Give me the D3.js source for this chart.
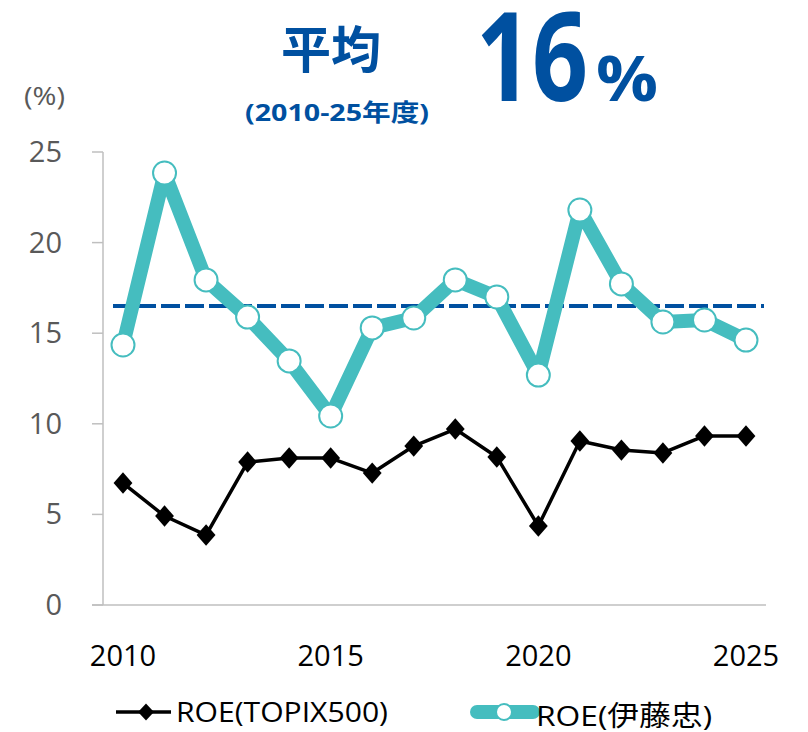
<!DOCTYPE html>
<html>
<head>
<meta charset="utf-8">
<script src="https://cdn.jsdelivr.net/npm/d3@7"></script>
<style>
  body { margin: 0; background: #fff; }
  text { font-family: "Open Sans", "Noto Sans CJK JP", sans-serif; }
</style>
</head>
<body>
<script>
const years = d3.range(2010, 2026);
const roeItochu = [14.35, 23.84, 17.94, 15.89, 13.47, 10.43, 15.29, 15.84, 17.94, 17.0, 12.69, 21.8, 17.72, 15.62, 15.73, 14.62];
const roeTopix = [6.73, 4.91, 3.86, 7.89, 8.11, 8.11, 7.28, 8.77, 9.71, 8.17, 4.36, 9.05, 8.55, 8.39, 9.33, 9.33];
const average = 16.5;
const yTicks = [0, 5, 10, 15, 20, 25];
const xTicks = [2010, 2015, 2020, 2025];

const W = 808, H = 732;
const blue = "#0050a0", teal = "#45bdbf", grey = "#bfbfbf";

const svg = d3.select("body")
    .append("svg")
    .attr("width", W)
    .attr("height", H);

const x = d3.scaleLinear().domain([2010, 2025]).range([123, 746]);
const y = d3.scaleLinear().domain([0, 25]).range([605, 152]);

// axes
svg.append("line")
    .attr("x1", 103).attr("x2", 103)
    .attr("y1", y(25)).attr("y2", y(0))
    .attr("stroke", grey).attr("stroke-width", 1.5);
svg.append("line")
    .attr("x1", 92).attr("x2", 766)
    .attr("y1", y(0)).attr("y2", y(0))
    .attr("stroke", grey).attr("stroke-width", 1.5);

svg.append("g")
    .selectAll("line")
    .data(yTicks)
    .enter()
    .append("line")
    .attr("x1", 92).attr("x2", 103)
    .attr("y1", d => y(d)).attr("y2", d => y(d))
    .attr("stroke", grey).attr("stroke-width", 1.5);

svg.append("g")
    .selectAll("text")
    .data(yTicks)
    .enter()
    .append("text")
    .text(d => d)
    .attr("x", 62)
    .attr("y", d => y(d) + 10)
    .attr("text-anchor", "end")
    .attr("fill", "#595959")
    .attr("font-size", 29);

svg.append("g")
    .selectAll("text")
    .data(xTicks)
    .enter()
    .append("text")
    .text(d => d)
    .attr("x", d => x(d))
    .attr("y", 666)
    .attr("text-anchor", "middle")
    .attr("fill", "#000")
    .attr("font-size", 29);

// average dashed line
svg.append("line")
    .attr("x1", 113).attr("x2", 764)
    .attr("y1", y(average)).attr("y2", y(average))
    .attr("stroke", blue)
    .attr("stroke-width", 4)
    .attr("stroke-dasharray", "19,5");

const line = d3.line()
    .x((d, i) => x(years[i]))
    .y(d => y(d));

// TOPIX line + diamonds
svg.append("path")
    .attr("d", line(roeTopix))
    .attr("fill", "none")
    .attr("stroke", "#000")
    .attr("stroke-width", 3.5)
    .attr("stroke-linejoin", "round");

const diamond = d3.symbol().type(d3.symbolDiamond2).size(250);
svg.append("g")
    .selectAll("path")
    .data(roeTopix)
    .enter()
    .append("path")
    .attr("d", diamond)
    .attr("transform", (d, i) => `translate(${x(years[i])},${y(d)}) scale(0.95,1.08)`)
    .attr("fill", "#000");

// Itochu line + circles
svg.append("path")
    .attr("d", line(roeItochu))
    .attr("fill", "none")
    .attr("stroke", teal)
    .attr("stroke-width", 14)
    .attr("stroke-linejoin", "round");

svg.append("g")
    .selectAll("circle")
    .data(roeItochu)
    .enter()
    .append("circle")
    .attr("cx", (d, i) => x(years[i]))
    .attr("cy", d => y(d))
    .attr("r", 11.5)
    .attr("fill", "#fff")
    .attr("stroke", teal)
    .attr("stroke-width", 2);

// titles
svg.append("text")
    .text("(%)")
    .attr("x", 24).attr("y", 105)
    .attr("fill", "#595959")
    .attr("font-size", 25)
    .attr("textLength", 41)
    .attr("lengthAdjust", "spacingAndGlyphs");

svg.append("text")
    .text("平均")
    .attr("x", 331).attr("y", 68)
    .attr("text-anchor", "middle")
    .attr("fill", blue)
    .attr("font-weight", "bold")
    .attr("font-size", 50)
    .attr("font-family", "Noto Sans CJK JP");

svg.append("text")
    .text("(2010-25年度)")
    .attr("x", 337).attr("y", 121)
    .attr("text-anchor", "middle")
    .attr("fill", blue)
    .attr("font-weight", "bold")
    .attr("font-size", 24)
    .attr("textLength", 184)
    .attr("lengthAdjust", "spacingAndGlyphs")
    .attr("font-family", "Noto Sans CJK JP");

svg.append("text")
    .text("16")
    .attr("x", 476).attr("y", 101)
    .attr("fill", blue)
    .attr("font-weight", "bold")
    .attr("font-size", 124)
    .attr("textLength", 112)
    .attr("lengthAdjust", "spacingAndGlyphs");

svg.append("text")
    .text("%")
    .attr("x", 596).attr("y", 101)
    .attr("fill", blue)
    .attr("font-weight", "bold")
    .attr("font-size", 62)
    .attr("textLength", 62)
    .attr("lengthAdjust", "spacingAndGlyphs");

// legend
const lg = svg.append("g");
lg.append("line")
    .attr("x1", 116).attr("x2", 171)
    .attr("y1", 712).attr("y2", 712)
    .attr("stroke", "#000").attr("stroke-width", 3.5);
lg.append("path")
    .attr("d", diamond)
    .attr("transform", "translate(146,712) scale(0.8,0.85)");
lg.append("text")
    .text("ROE(TOPIX500)")
    .attr("x", 176).attr("y", 722)
    .attr("font-size", 28)
    .attr("textLength", 212)
    .attr("lengthAdjust", "spacingAndGlyphs");

lg.append("line")
    .attr("x1", 477).attr("x2", 533)
    .attr("y1", 712).attr("y2", 712)
    .attr("stroke", teal).attr("stroke-width", 14)
    .attr("stroke-linecap", "round");
lg.append("circle")
    .attr("cx", 504).attr("cy", 712)
    .attr("r", 8)
    .attr("fill", "#fff")
    .attr("stroke", teal)
    .attr("stroke-width", 2);
lg.append("text")
    .text("ROE(伊藤忠)")
    .attr("x", 536).attr("y", 726)
    .attr("font-size", 28)
    .attr("textLength", 176)
    .attr("lengthAdjust", "spacingAndGlyphs");
</script>
</body>
</html>
